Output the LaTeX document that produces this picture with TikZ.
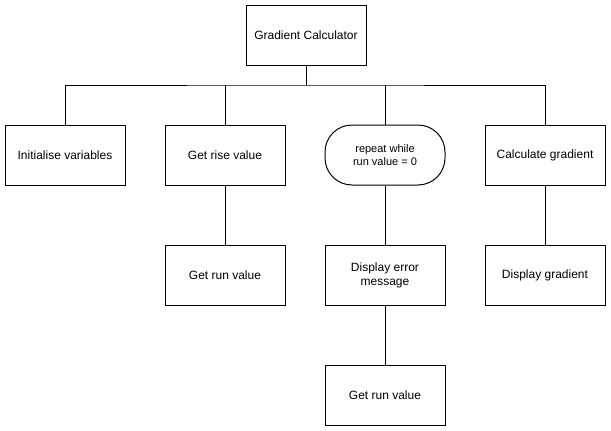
\documentclass[tikz,border=0pt]{standalone}
\usepackage{fontspec}
\setmainfont{Liberation Sans}
\begin{document}
\begin{tikzpicture}[x=1pt,y=-1pt,line width=1pt,
    box/.style={draw,minimum width=120pt,minimum height=60pt,inner sep=2pt,align=center,font=\fontsize{12}{14}\selectfont},
    loopbox/.style={box,rounded corners=27pt,font=\fontsize{11}{13.3}\selectfont}]

    \useasboundingbox (0,0) rectangle (611,431);

    %Raiz
    \node[box] (root) at (306,35) {Gradient Calculator};
    \coordinate (bus) at (306,85);

    %Fila 1
    \node[box] (init) at (65,155) {Initialise variables};
    \node[box] (rise) at (225,155) {Get rise value};
    \node[loopbox] (rep) at (385,155) {repeat while\\run value = 0};
    \node[box] (calc) at (545,155) {Calculate gradient};

    %Fila 2
    \node[box] (run) at (225,275) {Get run value};
    \node[box] (err) at (385,275) {Display error\\message};
    \node[box] (disp) at (545,275) {Display gradient};

    %Fila 3
    \node[box] (runb) at (385,395) {Get run value};

    %Lineas
    \draw (root) -- (bus);
    \draw (init.north) |- (bus) -| (calc.north);
    \draw (rise.north) -- (rise.north |- bus);
    \draw (rep.north) -- (rep.north |- bus);
    \draw (rise) -- (run);
    \draw (rep) -- (err);
    \draw (err) -- (runb);
    \draw (calc) -- (disp);

\end{tikzpicture}
\end{document}
